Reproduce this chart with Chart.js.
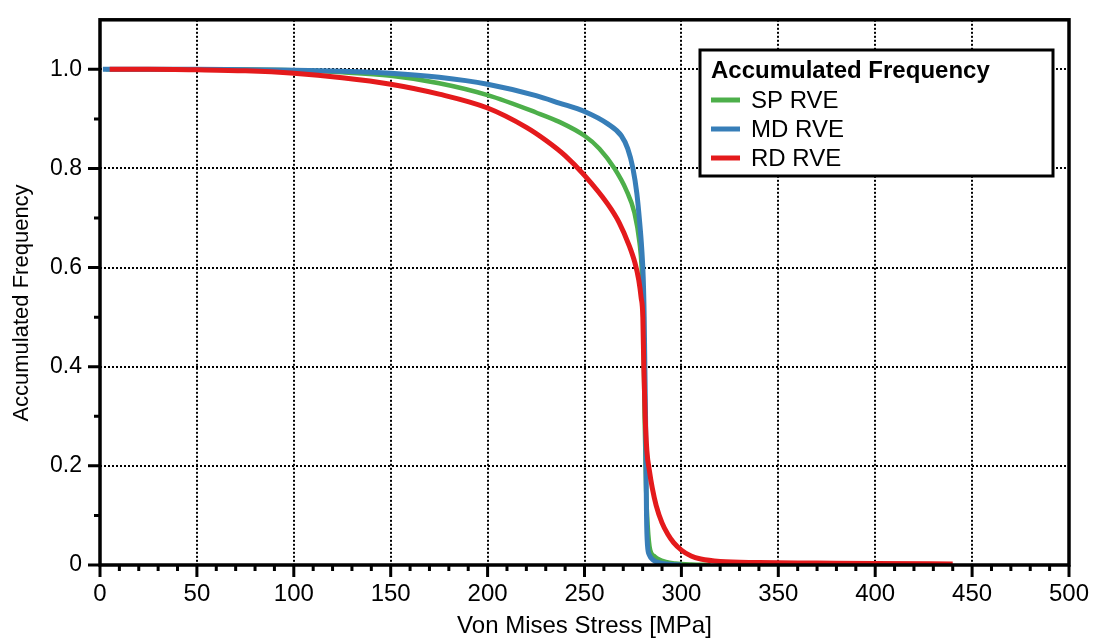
<!DOCTYPE html>
<html>
<head>
<meta charset="utf-8">
<script src="https://cdn.jsdelivr.net/npm/chart.js@4/dist/chart.umd.min.js"></script>
<style>
  html, body { margin: 0; padding: 0; background: #fff; }
  #wrap { width: 1094px; height: 641px; }
</style>
</head>
<body>
<div id="wrap"><canvas id="chart" width="1094" height="641"></canvas></div>
<script>
// values
const spStress = [3, 50, 100, 125, 150, 175, 200, 225, 237, 250, 257.7, 265.5, 271.5, 275.8, 278.4, 279.5, 280.3, 281, 281.8, 282.6, 283.9, 286, 288, 292, 297, 305, 315];
const spFreq   = [1.0, 1.0, 0.998, 0.994, 0.987, 0.972, 0.948, 0.913, 0.894, 0.866, 0.84, 0.80, 0.757, 0.71, 0.65, 0.6, 0.5, 0.3, 0.15, 0.08, 0.03, 0.018, 0.012, 0.006, 0.003, 0.001, 0];

const mdStress = [1.5, 50, 100, 125, 150, 175, 200, 225, 237, 250, 262, 269, 272.3, 275, 277, 278.5, 279.5, 280.3, 280.8, 281.5, 282, 282.5, 283.5, 285.5, 289, 295, 300];
const mdFreq   = [1.0, 1.0, 0.998, 0.996, 0.992, 0.984, 0.970, 0.947, 0.932, 0.915, 0.89, 0.866, 0.84, 0.80, 0.75, 0.69, 0.64, 0.58, 0.5, 0.3, 0.1, 0.04, 0.02, 0.01, 0.004, 0.001, 0];

const rdStress = [5, 25, 50, 75, 100, 125, 150, 175, 200, 220, 230, 240, 250, 262, 268, 273, 276, 278, 279.2, 280.1, 280.6, 281.3, 282.2, 283.5, 285, 287, 290, 293, 296, 300, 305, 310, 320, 340, 370, 400, 440];
const rdFreq   = [1.0, 1.0, 0.999, 0.997, 0.992, 0.983, 0.970, 0.950, 0.922, 0.883, 0.857, 0.826, 0.786, 0.728, 0.69, 0.645, 0.61, 0.575, 0.54, 0.5, 0.4, 0.3, 0.23, 0.19, 0.155, 0.12, 0.085, 0.062, 0.045, 0.03, 0.018, 0.012, 0.007, 0.005, 0.004, 0.003, 0.002];

const seriesNames = ['SP RVE', 'MD RVE', 'RD RVE'];
const seriesColors = ['#4daf4a', '#377eb8', '#e41a1c'];
const xTickLabels = [0, 50, 100, 150, 200, 250, 300, 350, 400, 450, 500];
const yTickLabels = ['0', '0.2', '0.4', '0.6', '0.8', '1.0'];

const FONT = '"Liberation Sans", Arial, Helvetica, sans-serif';

const toPoints = (xs, ys) => xs.map((x, i) => ({ x: x, y: ys[i] }));

// frame, tick marks, y title and the boxed legend
const framePlugin = {
    id: 'frame',
    afterDraw(chart) {
        const ctx = chart.ctx;
        const a = chart.chartArea;
        const xs = chart.scales.x, ys = chart.scales.y;
        ctx.save();
        ctx.strokeStyle = '#000';
        ctx.lineWidth = 3;
        ctx.lineCap = 'butt';
        ctx.beginPath();
        for (let v = 0; v <= 500; v += 10) {
            const px = xs.getPixelForValue(v);
            const len = v % 50 === 0 ? 12 : 6;
            ctx.moveTo(px, a.bottom);
            ctx.lineTo(px, a.bottom + len);
        }
        for (let k = 0; k <= 10; k++) {
            const py = ys.getPixelForValue(k / 10);
            const len = k % 2 === 0 ? 12 : 6;
            ctx.moveTo(a.left, py);
            ctx.lineTo(a.left - len, py);
        }
        ctx.stroke();
        ctx.lineWidth = 3.5;
        ctx.strokeRect(a.left, a.top, a.right - a.left, a.bottom - a.top);

        // y axis title
        ctx.fillStyle = '#000';
        ctx.save();
        ctx.translate(22, 303);
        ctx.rotate(-Math.PI / 2);
        ctx.textAlign = 'center';
        ctx.textBaseline = 'middle';
        ctx.font = '22px ' + FONT;
        ctx.fillText('Accumulated Frequency', 0, 0);
        ctx.restore();

        // legend
        const lx = 700, ly = 50, lw = 353, lh = 126;
        ctx.fillStyle = '#fff';
        ctx.fillRect(lx, ly, lw, lh);
        ctx.lineWidth = 3;
        ctx.strokeRect(lx, ly, lw, lh);
        ctx.fillStyle = '#000';
        ctx.textBaseline = 'middle';
        ctx.textAlign = 'left';
        ctx.font = 'bold 24px ' + FONT;
        ctx.fillText('Accumulated Frequency', 711, 71);
        ctx.font = '24px ' + FONT;
        seriesNames.forEach((name, i) => {
            const y = 100 + i * 29;
            ctx.strokeStyle = seriesColors[i];
            ctx.lineWidth = 5;
            ctx.beginPath();
            ctx.moveTo(711, y);
            ctx.lineTo(740, y);
            ctx.stroke();
            ctx.fillText(name, 751, y + 1);
        });
        ctx.restore();
    }
};

const ctx = document.getElementById('chart').getContext('2d');
new Chart(ctx, {
    type: 'scatter',
    data: {
        datasets: [
            { label: seriesNames[0], data: toPoints(spStress, spFreq), borderColor: seriesColors[0], borderWidth: 4.5, order: 2 },
            { label: seriesNames[1], data: toPoints(mdStress, mdFreq), borderColor: seriesColors[1], borderWidth: 5, order: 1 },
            { label: seriesNames[2], data: toPoints(rdStress, rdFreq), borderColor: seriesColors[2], borderWidth: 5, order: 0 }
        ].map(d => Object.assign(d, {
            showLine: true,
            pointRadius: 0,
            fill: false,
            cubicInterpolationMode: 'monotone'
        }))
    },
    options: {
        responsive: false,
        animation: false,
        layout: { padding: { top: 15, right: 25, left: 0, bottom: 0 } },
        plugins: {
            legend: { display: false },
            tooltip: { enabled: false }
        },
        scales: {
            x: {
                type: 'linear',
                min: 0,
                max: 500,
                afterFit: s => { s.height = 76; },
                border: { display: false, dash: [2, 2] },
                grid: {
                    color: c => (c.tick && c.tick.value % 50 === 0 && c.tick.value > 0 && c.tick.value < 500) ? '#000' : 'rgba(0,0,0,0)',
                    lineWidth: 2,
                    tickLength: 12,
                    tickColor: 'rgba(0,0,0,0)'
                },
                ticks: {
                    stepSize: 50,
                    autoSkip: false,
                    maxRotation: 0,
                    padding: 3,
                    color: '#000',
                    font: { family: FONT, size: 24 },
                    callback: v => xTickLabels.includes(v) ? String(v) : ''
                },
                title: {
                    display: true,
                    text: 'Von Mises Stress [MPa]',
                    color: '#000',
                    font: { family: FONT, size: 24 },
                    padding: { top: 0, bottom: 0 }
                }
            },
            y: {
                min: 0,
                max: 1.1,
                afterFit: s => { s.width = 100; },
                border: { display: false, dash: [2, 2] },
                grid: {
                    color: c => {
                        if (!c.tick) return 'rgba(0,0,0,0)';
                        const k = Math.round(c.tick.value * 10);
                        return (k % 2 === 0 && k > 0 && k <= 10) ? '#000' : 'rgba(0,0,0,0)';
                    },
                    lineWidth: 2,
                    tickLength: 12,
                    tickColor: 'rgba(0,0,0,0)'
                },
                ticks: {
                    stepSize: 0.2,
                    autoSkip: false,
                    padding: 6,
                    color: '#000',
                    font: { family: FONT, size: 23 },
                    callback: v => {
                        const k = Math.round(v * 10);
                        return (k % 2 === 0 && k <= 10) ? yTickLabels[k / 2] : '';
                    }
                },
                title: { display: false }
            }
        }
    },
    plugins: [framePlugin]
});
</script>
</body>
</html>
